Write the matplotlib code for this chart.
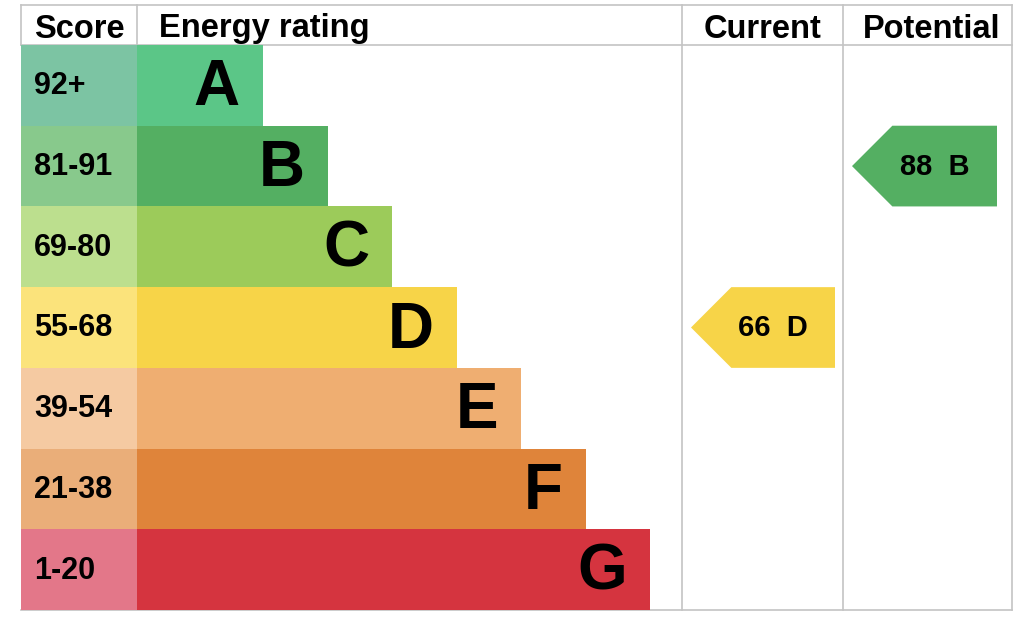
import matplotlib
matplotlib.use('Agg')
import matplotlib.pyplot as plt
from matplotlib.patches import Polygon

# EPC bands, top (best) to bottom
ratings = ['A', 'B', 'C', 'D', 'E', 'F', 'G']
score_ranges = ['92+', '81-91', '69-80', '55-68', '39-54', '21-38', '1-20']
band_min = [92, 81, 69, 55, 39, 21, 1]
current_score = 66
potential_score = 88

score_colors = ['#7cc4a3', '#88c98c', '#bcdf8e', '#fbe37b', '#f5caa2', '#eaae79', '#e37789']
bar_colors = ['#5bc687', '#54af62', '#9ccb5a', '#f7d448', '#efae71', '#df843a', '#d5343f']

plt.rcParams['font.family'] = ['Liberation Sans', 'DejaVu Sans']

W, H = 1024, 624
fig = plt.figure(figsize=(W / 100, H / 100), dpi=100)
ax = fig.add_axes([0, 0, 1, 1])
ax.set_xlim(0, W)
ax.set_ylim(H, 0)
ax.axis('off')

# layout (pixels)
left, right, top, bottom = 21, 1012, 5, 610
header_h = 40
col_score, col_cur, col_pot = 137, 682, 843
row_h = (bottom - top - header_h) / len(ratings)
rows = [top + header_h + row_h * (i + 0.5) for i in range(len(ratings))]
grid = '#c4c4c4'


def band_of(score):
    for i, m in enumerate(band_min):
        if score >= m:
            return i
    return len(ratings) - 1


# score cells and rating bars
ax.barh(rows, [col_score - left] * len(rows), left=left, height=row_h,
        color=score_colors, zorder=2)
widths = [126 + 64.5 * i for i in range(len(ratings))]
ax.barh(rows, widths, left=col_score, height=row_h, color=bar_colors, zorder=2)

for y, lab, letter, w in zip(rows, score_ranges, ratings, widths):
    ax.text(34, y + 1, lab, fontsize=22, fontweight='bold', ha='left', va='center', zorder=3)
    ax.text(col_score + w - 23, y + 3, letter, fontsize=46, fontweight='bold',
            ha='right', va='center', zorder=3)

# grid lines
ax.plot([left, right], [top, top], color=grid, lw=1.2, zorder=1)
ax.plot([left, right], [top + header_h, top + header_h], color=grid, lw=1.2, zorder=1)
ax.plot([left, right], [bottom, bottom], color=grid, lw=1.2, zorder=1)
for x in [left, col_score]:
    ax.plot([x, x], [top, top + header_h], color=grid, lw=1.2, zorder=1)
for x in [col_cur, col_pot, right]:
    ax.plot([x, x], [top, bottom], color=grid, lw=1.2, zorder=1)

# headers
hy = 37.5
hs = 23.5
ax.text((left + col_score) / 2, hy, 'Score', fontsize=hs, fontweight='bold', ha='center', va='baseline')
ax.text(159, hy, 'Energy rating', fontsize=hs, fontweight='bold', ha='left', va='baseline')
ax.text((col_cur + col_pot) / 2, hy, 'Current', fontsize=hs, fontweight='bold', ha='center', va='baseline')
ax.text((col_pot + right) / 2 + 4, hy, 'Potential', fontsize=hs, fontweight='bold', ha='center', va='baseline')


def arrow(score, tip_x, end_x):
    i = band_of(score)
    yc = rows[i]
    y0, y1 = yc - row_h / 2, yc + row_h / 2
    body = tip_x + row_h / 2
    poly = Polygon([(tip_x, yc), (body, y0), (end_x, y0), (end_x, y1), (body, y1)],
                   closed=True, facecolor=bar_colors[i], edgecolor='none', zorder=2)
    ax.add_patch(poly)
    ax.text((tip_x + end_x) / 2 + 10, yc + 1, f'{score}  {ratings[i]}', fontsize=21,
            fontweight='bold', ha='center', va='center', zorder=3)


arrow(current_score, 691, 835)
arrow(potential_score, 852, 997)

fig.savefig('out.png', dpi=100, facecolor='white')
